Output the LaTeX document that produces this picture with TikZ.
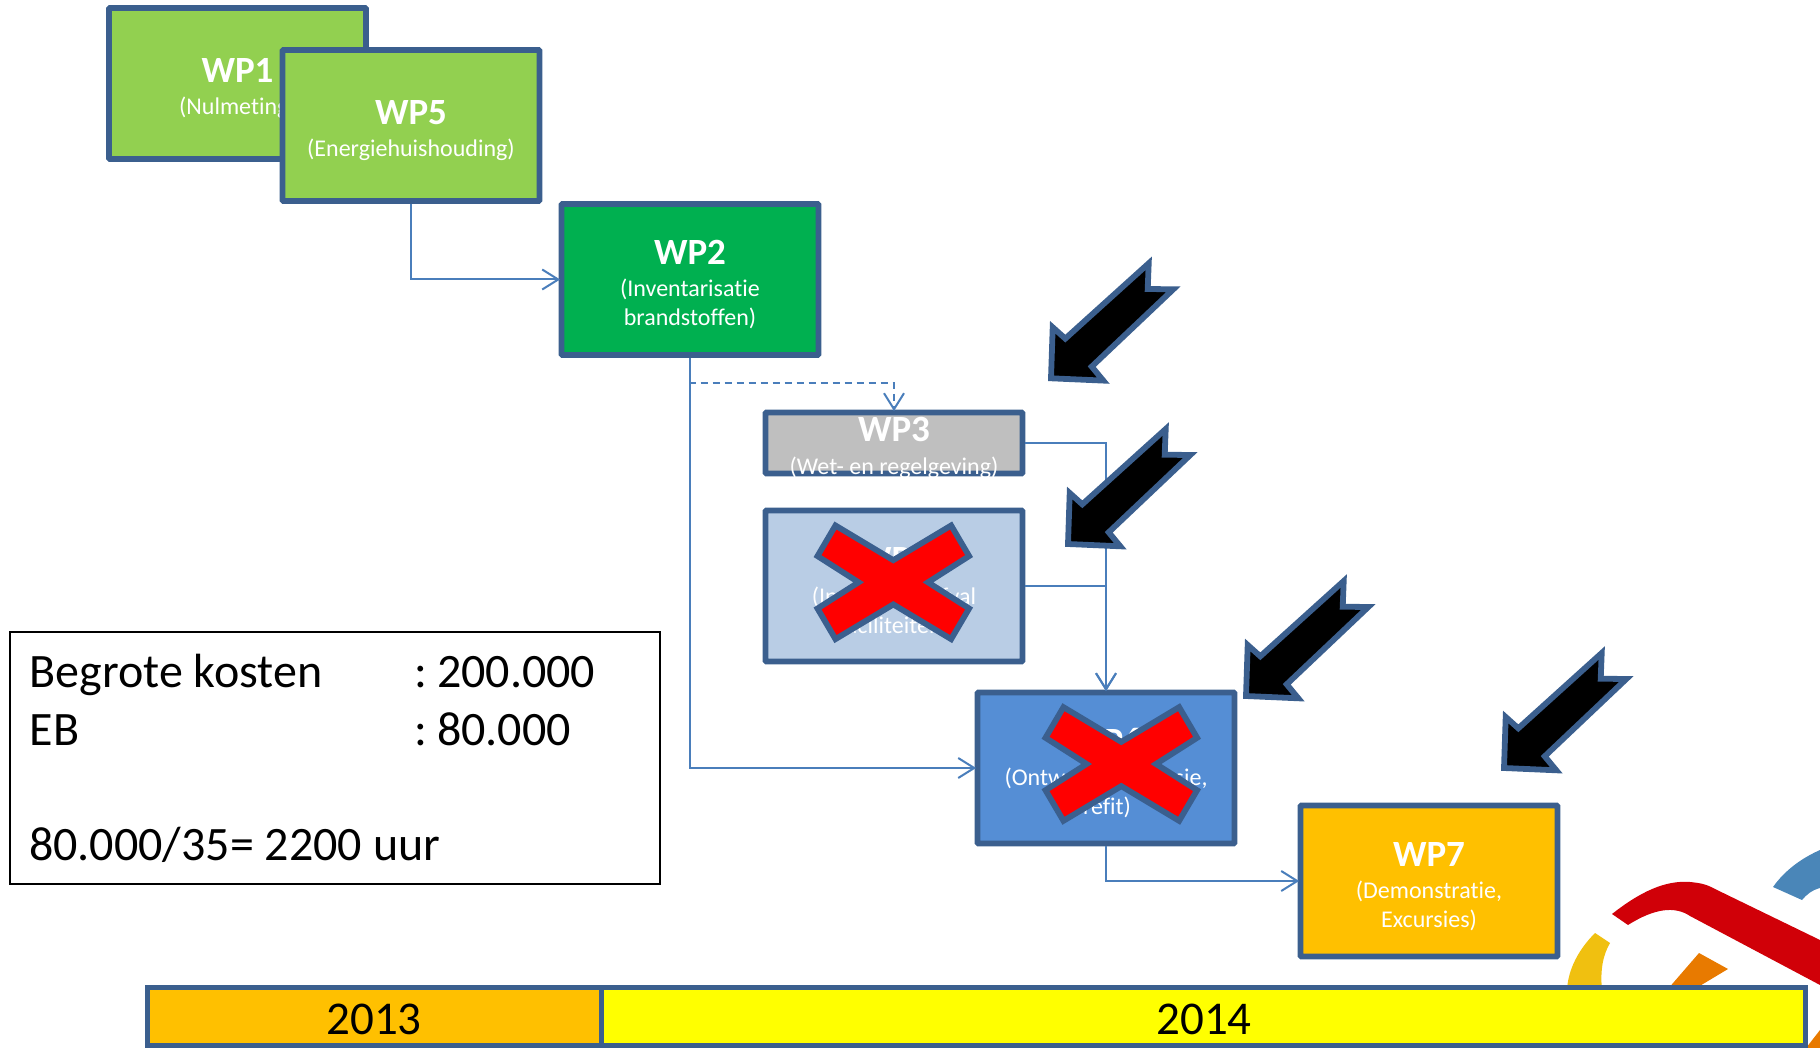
\documentclass[tikz,border=0pt]{standalone}
\usepackage{fontspec}
\setmainfont[Ligatures=NoCommon]{Carlito}
\usetikzlibrary{arrows.meta}
\definecolor{edgeblue}{HTML}{3B5F8E}
\definecolor{linkblue}{HTML}{4A7EBB}
\definecolor{lightgreen}{HTML}{92D050}
\definecolor{darkgreen}{HTML}{00B050}
\definecolor{midgray}{HTML}{BFBFBF}
\definecolor{paleblue}{HTML}{B9CDE5}
\definecolor{midblue}{HTML}{558ED5}
\definecolor{amber}{HTML}{FFC000}
\definecolor{pureyellow}{HTML}{FFFF00}
\definecolor{purered}{HTML}{FF0000}
\definecolor{logored}{HTML}{D00008}
\definecolor{logoblue}{HTML}{4A86B8}
\definecolor{logoyellow}{HTML}{F0C010}
\definecolor{logoorange}{HTML}{E87A00}
\tikzset{
  wpbox/.style={draw=edgeblue,line width=5.8pt,rounded corners=1pt,inner sep=0pt,
    minimum width=257pt,minimum height=151pt},
  barbox/.style={draw=edgeblue,line width=5pt,inner sep=0pt,minimum height=58pt,
    fill=#1},
  wptitle/.style={anchor=base,text=white,inner sep=0pt,font=\fontsize{37}{37}\selectfont\bfseries},
  wpsub/.style={anchor=base,text=white,inner sep=0pt,font=\fontsize{24}{24}\selectfont},
  costtext/.style={anchor=base west,inner sep=0pt,font=\fontsize{48}{48}\selectfont},
  yeartext/.style={anchor=base,inner sep=0pt,font=\fontsize{47}{47}\selectfont},
  link/.style={draw=linkblue,line width=2pt,shorten >=-1.5pt,
    -{Straight Barb[length=16pt,width=20pt]}},
  barrow/.pic={
    \draw[edgeblue,fill=black,line width=5.8pt,miter limit=10]
      (0,0) -- (1.7,-51) -- (14.3,-39.7) -- (97.7,-115) -- (96.7,-89.3)
      -- (122.3,-89) -- (40.7,-11.7) -- (52.3,2.3) -- cycle;
  },
  crossmark/.pic={
    \draw[edgeblue,fill=purered,line width=5.8pt,miter limit=10,scale=1.02]
      (0,-21.7) -- (56.7,-55.7) -- (74.3,-25.7) -- (34,0) -- (74.3,25.7) -- (56.7,55.7)
      -- (0,21.7) -- (-56.7,55.7) -- (-74.3,25.7) -- (-34,0) -- (-74.3,-25.7)
      -- (-56.7,-55.7) -- cycle;
  }
}
\begin{document}
\begin{tikzpicture}[x=1pt,y=-1pt]
\useasboundingbox (0,0) rectangle (1820,1048);
% logo
\fill[logored] (1612,914) .. controls (1640,892) and (1665,880) .. (1690,882)
  .. controls (1700,883) and (1706,884) .. (1715,889) -- (1820,940) -- (1820,985)
  -- (1690,916) .. controls (1675,906) and (1655,908) .. (1628,925) -- cycle;
\fill[logoblue] (1773,887) .. controls (1785,870) and (1802,858) .. (1820,850)
  -- (1820,888) .. controls (1812,890) and (1806,895) .. (1802,900) -- cycle;
\fill[logoyellow] (1595,933) -- (1610,943) .. controls (1603,955) and (1600,970) .. (1602,990)
  -- (1567,990) .. controls (1568,970) and (1578,950) .. (1595,933) -- cycle;
\fill[logoorange] (1699,953) -- (1728,969) -- (1693,990) -- (1667,990) -- cycle;
\fill[logoorange] (1820,1030) -- (1806,1048) -- (1820,1048) -- cycle;
% cost box
\node[draw=black,line width=2pt,inner sep=0pt,minimum width=650pt,minimum height=252pt]
  (cost) at (335,758) {};
\node[costtext] (costa) at (29.5,687.5) {Begrote kosten};
\node[costtext] (costb) at (414,687.5) {:};
\node[costtext] (costb2) at (437,687.5) {200.000};
\node[costtext] (costc) at (29.5,745) {EB};
\node[costtext] (costd) at (414,745) {:};
\node[costtext] (costd2) at (437,745) {80.000};
\node[costtext] (coste) at (29,860) {80.000/35= 2200 uur};
% time bar
\node[barbox=amber,minimum width=454pt] (y13) at (374.5,1016.5) {};
\node[barbox=pureyellow,minimum width=1204pt] (y14) at (1203.5,1016.5) {};
\node[yeartext] (y13t) at (374,1034) {2013};
\node[yeartext] (y14t) at (1204,1034) {2014};
% work packages
\node[wpbox,fill=lightgreen] (wp1) at (237.5,83.5) {};
\node[wptitle] (wp1t) at (237.5,83) {WP1};
\node[wpsub] (wp1s) at (237.5,115) {(Nulmeting)};
\node[wpbox,fill=lightgreen] (wp5) at (411,125.5) {};
\node[wptitle] (wp5t) at (411,124.5) {WP5};
\node[wpsub] (wp5s) at (411,156.5) {(Energiehuishouding)};
\node[wpbox,fill=darkgreen] (wp2) at (690,279.5) {};
\node[wptitle] (wp2t) at (690,264.5) {WP2};
\node[wpsub] (wp2s) at (690,296.5) {(Inventarisatie};
\node[wpsub] (wp2r) at (690,325.5) {brandstoffen)};
\node[wpbox,fill=midgray,minimum height=61pt] (wp3) at (894,443) {};
\node[wptitle] (wp3t) at (894,441) {WP3};
\node[wpsub] (wp3s) at (894,474) {(Wet- en regelgeving)};
\node[wpbox,fill=paleblue] (wp4) at (894,586) {};
\node[wptitle] (wp4t) at (894,571) {WP4};
\node[wpsub] (wp4s) at (894,604) {(Inzameling afval};
\node[wpsub] (wp4r) at (894,633) {faciliteiten)};
\node[wpbox,fill=midblue] (wp6) at (1106,768) {};
\node[wptitle] (wp6t) at (1106,753) {WP6};
\node[wpsub] (wp6s) at (1106,785) {(Ontwerp, conversie,};
\node[wpsub] (wp6r) at (1107,814) {refit)};
\node[wpbox,fill=amber] (wp7) at (1429,881) {};
\node[wptitle] (wp7t) at (1429,866) {WP7};
\node[wpsub] (wp7s) at (1429,898) {(Demonstratie,};
\node[wpsub] (wp7r) at (1429,927) {Excursies)};
% connectors
\draw[link] (wp5.south) |- (wp2.west);
\draw[link,dash pattern=on 7pt off 5pt] (wp2.south) -- ++(0,25.5) -| (wp3.north);
\draw[link] (wp2.south) |- (wp6.west);
\draw[link] (wp3.east) -| (wp6.north);
\draw[link] (wp4.east) -| (wp6.north);
\draw[link] (wp6.south) |- (wp7.west);
% crosses
\pic at (893.3,582.3) {crossmark};
\pic at (1121.3,764) {crossmark};
% block arrows
\pic at (1051,378.3) {barrow};
\pic at (1068,544) {barrow};
\pic at (1246,696) {barrow};
\pic at (1504,768) {barrow};
\end{tikzpicture}
\end{document}
